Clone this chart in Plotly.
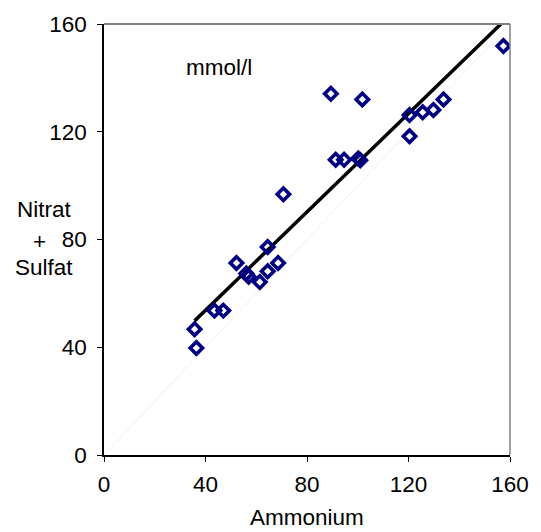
import plotly.graph_objects as go

# Data (mmol/l)
ammonium = [35.7, 36.4, 43.5, 47.0, 52.2, 56.1, 57.0, 61.4, 64.5, 68.6, 64.5, 70.7,
            89.4, 91.3, 94.6, 100.2, 101.0, 101.8, 120.4, 120.4, 125.6, 129.8, 133.8, 157.4]
nitrat_sulfat = [46.7, 39.7, 53.6, 53.6, 71.3, 67.4, 66.2, 64.2, 68.2, 71.3, 77.2, 96.8,
                 134.1, 109.6, 109.6, 110.1, 109.4, 132.0, 126.2, 118.3, 127.2, 128.1, 132.0, 151.8]
diag_vals = [0, 160]
tick_vals = [0, 40, 80, 120, 160]
tick_text = ["0", "40", "80", "120", "160"]

# linear trend line
trend_slope = 0.913
trend_intercept = 17.2
trend_x = [min(ammonium), max(ammonium)]
trend_y = [trend_slope * v + trend_intercept for v in trend_x]

FONT = "Liberation Sans, Arial, sans-serif"
FS = 22.5

fig = go.Figure()
fig.add_trace(go.Scatter(x=diag_vals, y=diag_vals, mode="lines",
                         line=dict(color="#efefef", width=1), hoverinfo="skip"))
fig.add_trace(go.Scatter(x=trend_x, y=trend_y, mode="lines",
                         line=dict(color="black", width=3.5)))
fig.add_trace(go.Scatter(x=ammonium, y=nitrat_sulfat, mode="markers",
                         marker=dict(symbol="diamond-open", size=9.5, color="#000080",
                                     line=dict(color="#000080", width=3.6))))

axis_common = dict(range=[0, 160], tickvals=tick_vals, ticktext=tick_text,
                   showgrid=False, zeroline=False, showline=True, linecolor="black",
                   linewidth=1.5, ticks="outside", ticklen=5, tickcolor="black",
                   tickwidth=1, tickfont=dict(family=FONT, size=FS, color="black"))

fig.update_layout(
    width=541, height=532,
    margin=dict(l=104, r=24, t=20, b=77),
    paper_bgcolor="white", plot_bgcolor="white",
    showlegend=False,
    xaxis=dict(**axis_common, ticklabelstandoff=3),
    yaxis=dict(**axis_common, ticklabelstandoff=6),
    shapes=[
        dict(type="line", xref="paper", yref="paper", x0=0, x1=1, y0=1, y1=1,
             line=dict(color="#808080", width=2)),
        dict(type="line", xref="paper", yref="paper", x0=1, x1=1, y0=0, y1=1,
             line=dict(color="#808080", width=1.5)),
    ],
    annotations=[
        dict(text="mmol/l", xref="paper", yref="paper", x=(221 - 104) / 413,
             y=(454.7 - 64) / 435, showarrow=False, xanchor="center", yanchor="middle",
             font=dict(family=FONT, size=FS, color="black")),
        dict(text="Ammonium", xref="paper", yref="paper", x=0.5,
             y=(454.7 - 518) / 435, showarrow=False, xanchor="center", yanchor="middle",
             font=dict(family=FONT, size=FS, color="black")),
        dict(text="Nitrat", xref="paper", yref="paper", x=(43 - 104) / 413,
             y=(454.7 - 207) / 435, showarrow=False, xanchor="center", yanchor="middle",
             font=dict(family=FONT, size=FS, color="black")),
        dict(text="+", xref="paper", yref="paper", x=(38 - 104) / 413,
             y=(454.7 - 239) / 435, showarrow=False, xanchor="center", yanchor="middle",
             font=dict(family=FONT, size=FS, color="black")),
        dict(text="Sulfat", xref="paper", yref="paper", x=(42.5 - 104) / 413,
             y=(454.7 - 265) / 435, showarrow=False, xanchor="center", yanchor="middle",
             font=dict(family=FONT, size=FS, color="black")),
    ],
)

fig.write_html("out.html")
